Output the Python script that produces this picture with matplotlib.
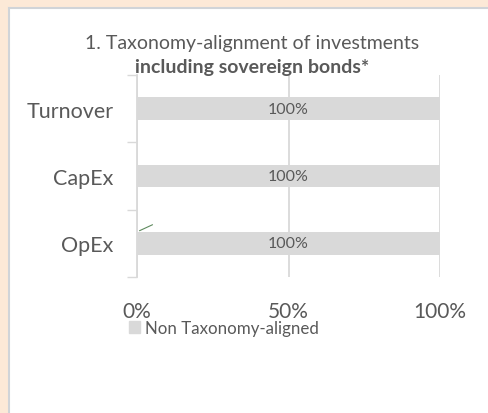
import matplotlib
matplotlib.use("Agg")
import matplotlib.pyplot as plt
from matplotlib.patches import Rectangle
from matplotlib.lines import Line2D

# data
categories = ["Turnover", "CapEx", "OpEx"]
non_aligned = [100, 100, 100]
aligned = [0, 0, 0]
x_ticks = [0, 50, 100]
x_labels = ["0%", "50%", "100%"]

plt.rcParams["font.family"] = ["Lato", "DejaVu Sans"]
text_col = "#595959"
grid_col = "#D9D9D9"
bar_col = "#D9D9D9"

W, H = 489, 414
fig = plt.figure(figsize=(W / 100, H / 100), dpi=100, facecolor="#FCE9D7")

# white panel with a light border
fig.patches.append(Rectangle((9 / W, 0), 1 - 9 / W, 1 - 9 / H, transform=fig.transFigure,
                             facecolor="white", edgecolor="none", zorder=-2))
fig.lines.append(Line2D([9 / W, 9 / W], [0, 1 - 9 / H], transform=fig.transFigure,
                        color="#D0D4D8", lw=1.5, zorder=-1))
fig.lines.append(Line2D([9 / W, 1], [1 - 9 / H, 1 - 9 / H], transform=fig.transFigure,
                        color="#D0D4D8", lw=1.5, zorder=-1))

ax = fig.add_axes([137 / W, 1 - 278 / H, 303 / W, 202 / H])
ax.set_zorder(2)
ax.set_facecolor("none")

ypos = list(range(len(categories)))
bars = ax.barh(ypos, non_aligned, left=aligned, height=0.335, color=bar_col, zorder=2)
for b, v in zip(bars, non_aligned):
    ax.text(b.get_x() + b.get_width() / 2, b.get_y() + b.get_height() / 2, f"{v}%",
            ha="center", va="center", fontsize=11.5, color=text_col, zorder=3)

# leftover leader line of the hidden 0% label on OpEx
ax.annotate("", xy=(aligned[2], ypos[2] - 0.17), xytext=(13, 6), textcoords="offset points",
            arrowprops=dict(arrowstyle="-", color="#5E8A5E", lw=0.8), zorder=4)

ax.set_xlim(0, 100)
ax.set_ylim(len(categories) - 0.5, -0.5)
ax.set_xticks(x_ticks)
ax.set_xticklabels(x_labels)
ax.set_yticks(ypos)
ax.set_yticklabels(categories)
ax.set_yticks([i - 0.5 for i in range(len(categories) + 1)], minor=True)
ax.tick_params(axis="x", length=0, pad=17, labelsize=15, labelcolor=text_col)
ax.tick_params(axis="y", which="major", length=0, pad=17, labelsize=15.5, labelcolor=text_col)
ax.tick_params(axis="y", which="minor", length=7, width=1, color=grid_col)
ax.xaxis.grid(True, color=grid_col, lw=1.3, zorder=1)
ax.set_axisbelow(True)
for s in ["top", "right", "bottom"]:
    ax.spines[s].set_visible(False)
ax.spines["left"].set_color(grid_col)
ax.spines["left"].set_linewidth(1.3)

fig.text(252 / W, 1 - 43 / H, "1. Taxonomy-alignment of investments", ha="center", va="center",
         fontsize=14, color=text_col)
fig.text(252 / W, 1 - 67 / H, "including sovereign bonds*", ha="center", va="center",
         fontsize=14, fontweight="bold", color=text_col)

fig.legend(handles=[Rectangle((0, 0), 1, 1, color=bar_col)], labels=["Non Taxonomy-aligned"],
           loc="center left", bbox_to_anchor=(129 / W, 1 - 329 / H), frameon=False,
           fontsize=12.2, handlelength=0.65, handleheight=0.65, handletextpad=0.3,
           borderpad=0, borderaxespad=0, labelcolor=text_col)

fig.savefig("out.png", dpi=100, facecolor=fig.get_facecolor())
